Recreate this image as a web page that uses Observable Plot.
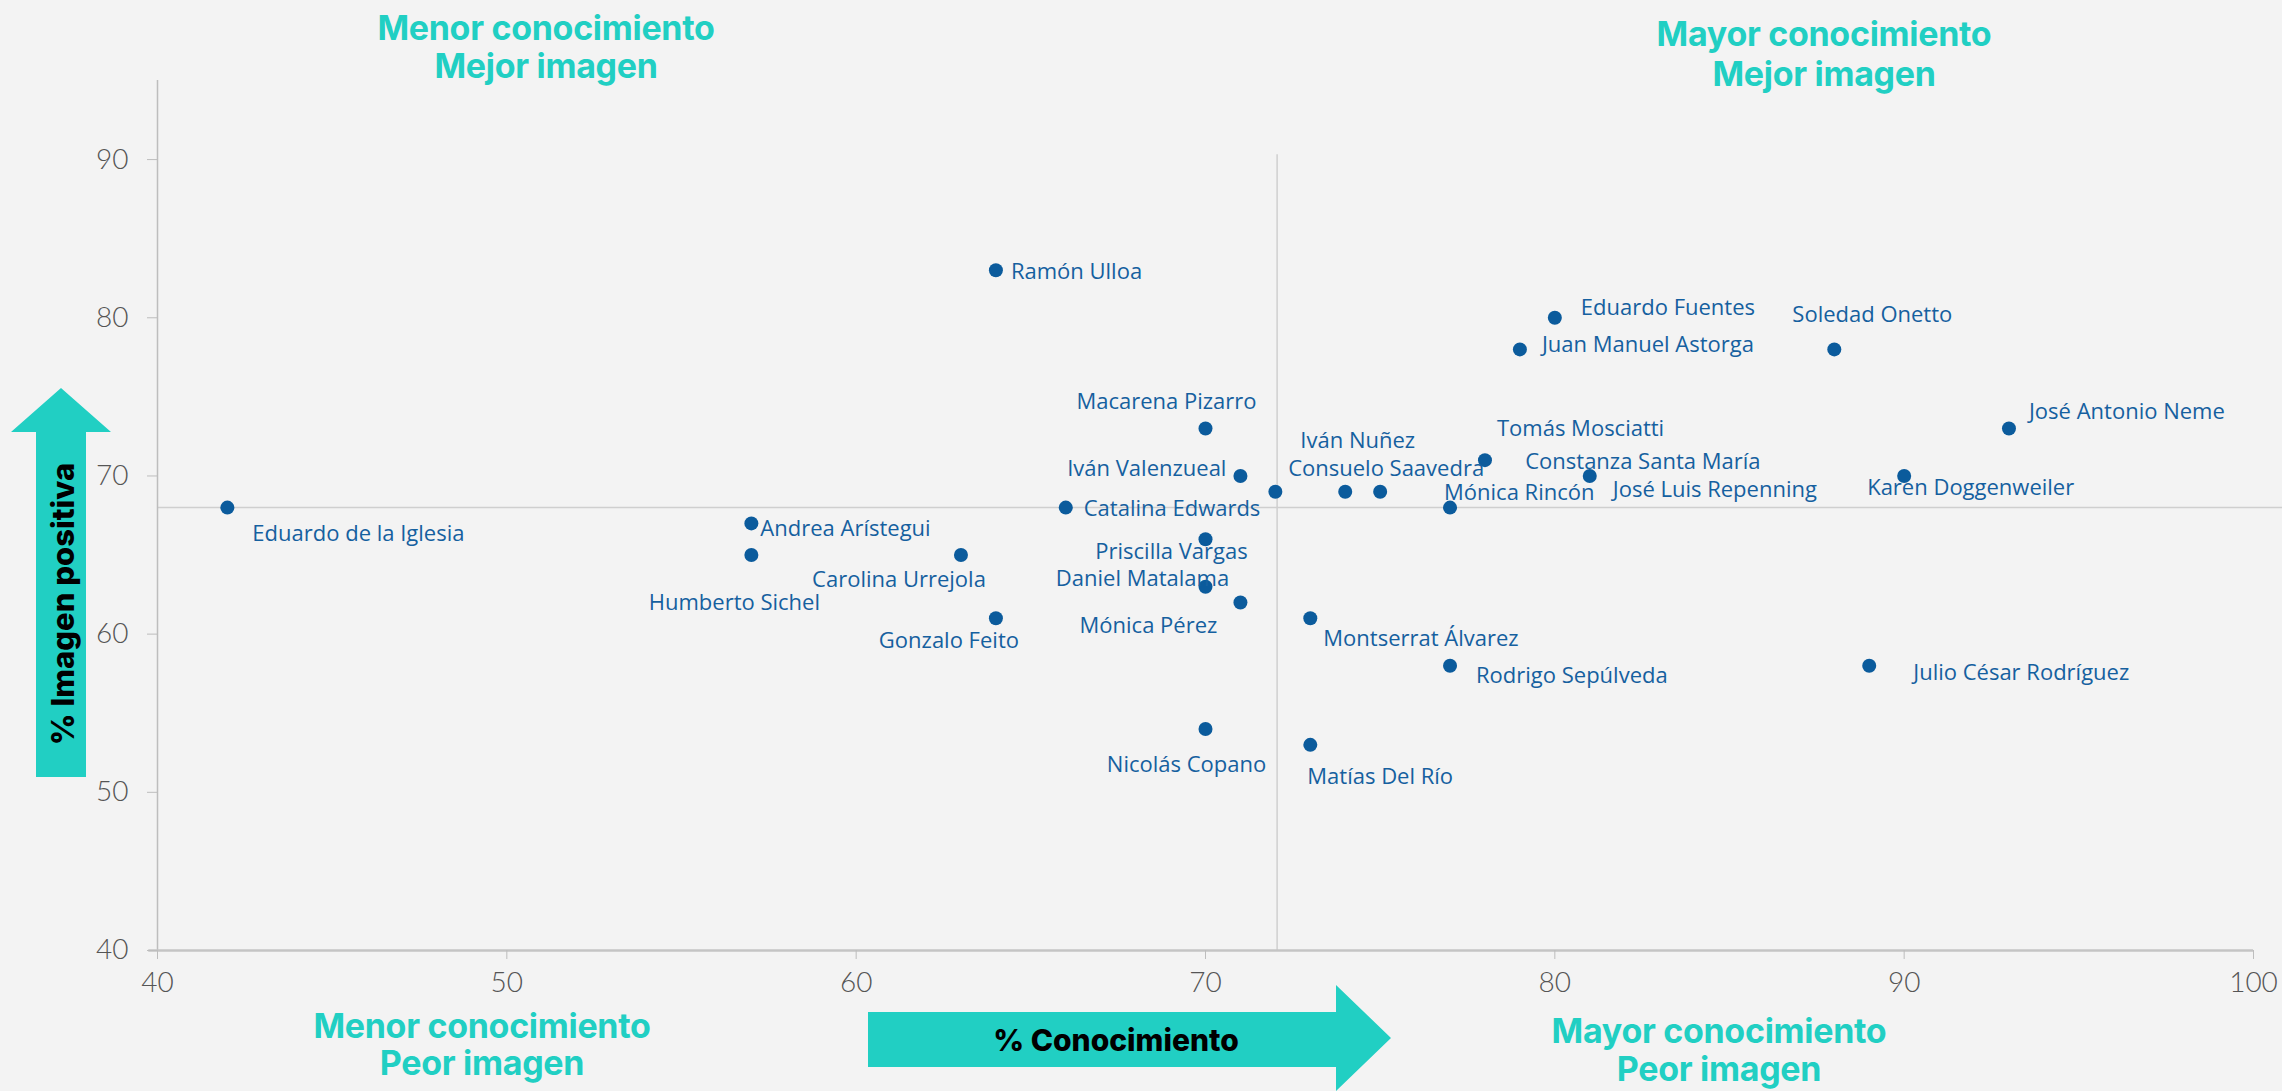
<!DOCTYPE html>
<html>
<head>
<meta charset="utf-8">
<script src="https://cdn.jsdelivr.net/npm/d3@7"></script>
<script src="https://cdn.jsdelivr.net/npm/@observablehq/plot@0.6"></script>
<style>
  html, body { margin: 0; padding: 0; background: #f3f3f3; }
  #wrap { position: relative; width: 2282px; height: 1091px; overflow: hidden; background: #f3f3f3; }
  #chart, #overlay { position: absolute; left: 0; top: 0; }
</style>
</head>
<body>
<div id="wrap">
  <div id="chart"></div>
  <svg id="overlay" width="2282" height="1091"></svg>
</div>
<script>
// ---- data ----
const names = [
  "Eduardo de la Iglesia", "Andrea Arístegui", "Humberto Sichel", "Carolina Urrejola",
  "Gonzalo Feito", "Ramón Ulloa", "Catalina Edwards", "Macarena Pizarro",
  "Iván Valenzueal", "Priscilla Vargas", "Daniel Matalama", "Mónica Pérez",
  "Nicolás Copano", "Iván Nuñez", "Constanza Santa María", "Consuelo Saavedra",
  "Montserrat Álvarez", "Matías Del Río", "Mónica Rincón", "Rodrigo Sepúlveda",
  "Tomás Mosciatti", "Juan Manuel Astorga", "Eduardo Fuentes", "José Luis Repenning",
  "Soledad Onetto", "José Antonio Neme", "Karen Doggenweiler", "Julio César Rodríguez"
];
const conocimiento = [42, 57, 57, 63, 64, 64, 66, 70, 71, 70, 70, 71, 70, 72, 74, 75, 73, 73, 77, 77, 78, 79, 80, 81, 88, 93, 90, 89];
const imagen       = [68, 67, 65, 65, 61, 83, 68, 73, 70, 66, 63, 62, 54, 69, 69, 69, 61, 53, 68, 58, 71, 78, 80, 70, 78, 73, 70, 58];
const xTicks = [40, 50, 60, 70, 80, 90, 100];
const yTicks = [40, 50, 60, 70, 80, 90];
const refX = 72.05;
const refY = 68;
const xLabel = "% Conocimiento";
const yLabel = "% Imagen positiva";
const quadrants = [
  ["Menor conocimiento", "Mejor imagen"],
  ["Mayor conocimiento", "Mejor imagen"],
  ["Menor conocimiento", "Peor imagen"],
  ["Mayor conocimiento", "Peor imagen"]
];

// label placement (anchor, dx, dy in px) — kept separate from data
const labelPlacement = {
  "Eduardo de la Iglesia": ["start", 25, 26],
  "Andrea Arístegui": ["start", 9, 6],
  "Humberto Sichel": ["middle", -17, 48],
  "Carolina Urrejola": ["middle", -62, 25],
  "Gonzalo Feito": ["middle", -47, 23],
  "Ramón Ulloa": ["start", 15, 2],
  "Catalina Edwards": ["start", 18, 1],
  "Macarena Pizarro": ["middle", -39, -27],
  "Iván Valenzueal": ["end", -14, -7],
  "Priscilla Vargas": ["middle", -34, 13],
  "Daniel Matalama": ["middle", -63, -8],
  "Mónica Pérez": ["middle", -92, 23],
  "Nicolás Copano": ["middle", -19, 36],
  "Iván Nuñez": ["start", 25, -51],
  "Constanza Santa María": ["start", 180, -30],
  "Consuelo Saavedra": ["start", -92, -23],
  "Montserrat Álvarez": ["start", 13, 21],
  "Matías Del Río": ["start", -3, 32],
  "Mónica Rincón": ["start", -6, -15],
  "Rodrigo Sepúlveda": ["start", 26, 10],
  "Tomás Mosciatti": ["start", 12, -31],
  "Juan Manuel Astorga": ["start", 22, -4],
  "Eduardo Fuentes": ["start", 26, -10],
  "José Luis Repenning": ["start", 23, 14],
  "Soledad Onetto": ["middle", 38, -34],
  "José Antonio Neme": ["start", 20, -17],
  "Karen Doggenweiler": ["start", -37, 12],
  "Julio César Rodríguez": ["start", 44, 7]
};

const people = names.map((n, i) => ({name: n, x: conocimiento[i], y: imagen[i]}));

const blue = "#0b5b9c";
const labelBlue = "#15609f";
const teal = "#21cfc3";
const labelFont = "'Open Sans', sans-serif";

const labelMarks = people.map(p => {
  const [anchor, dx, dy] = labelPlacement[p.name];
  return Plot.text([p], {
    x: "x", y: "y", text: "name",
    textAnchor: anchor, dx, dy,
    fill: labelBlue, fontSize: 22, fontFamily: labelFont,
    letterSpacing: "0.5px"
  });
});

const chart = Plot.plot({
  width: 2282,
  height: 1091,
  marginLeft: 157,
  marginRight: 29,
  marginTop: 80,
  marginBottom: 141,
  style: {background: "transparent", fontFamily: "Lato, 'Open Sans', sans-serif", overflow: "visible"},
  x: {domain: [40, 100]},
  y: {domain: [40, 95]},
  marks: [
    Plot.ruleY([refY], {x1: 40, x2: 101.5, stroke: "#cfcfcf", strokeWidth: 1.5, clip: false}),
    Plot.ruleX([refX], {y1: 40, y2: 90.3, stroke: "#cfcfcf", strokeWidth: 1.5}),
    Plot.ruleX([40], {y1: 40, y2: 95, stroke: "#bdbdbd", strokeWidth: 1.5}),
    Plot.ruleY([40], {x1: 39.75, x2: 100, stroke: "#c4c4c4", strokeWidth: 2.5}),
    Plot.axisX({ticks: xTicks, tickSize: 9, tickPadding: 13, stroke: "#bdbdbd", fill: "#555",
      fontSize: 28, fontWeight: 300, label: null, tickFormat: d => String(d)}),
    Plot.axisY({ticks: yTicks, tickSize: 10, tickPadding: 19, stroke: "#bdbdbd", fill: "#555",
      fontSize: 28, fontWeight: 300, label: null, tickFormat: d => String(d)}),
    Plot.dot(people, {x: "x", y: "y", r: 7, fill: blue, stroke: null, title: "name"}),
    ...labelMarks
  ]
});
document.getElementById("chart").appendChild(chart);

// ---- overlay annotations (arrows and quadrant titles) ----
const ov = d3.select("#overlay");
// horizontal arrow
ov.append("polygon")
  .attr("points", "868,1012 1336,1012 1336,985 1391,1038 1336,1091 1336,1067 868,1067")
  .attr("fill", teal);
ov.append("text").attr("x", 1116).attr("y", 1040)
  .attr("text-anchor", "middle").attr("dominant-baseline", "central")
  .attr("font-family", "Inter, 'Open Sans', sans-serif").attr("font-weight", 800)
  .attr("font-size", 30).attr("fill", "#000").text(xLabel);
// vertical arrow
ov.append("polygon")
  .attr("points", "36,777 36,432 11,432 61,388 111,432 86,432 86,777")
  .attr("fill", teal);
ov.append("text").attr("transform", "translate(62,604) rotate(-90)")
  .attr("text-anchor", "middle").attr("dominant-baseline", "central")
  .attr("font-family", "Inter, 'Open Sans', sans-serif").attr("font-weight", 800)
  .attr("font-size", 31).attr("fill", "#000").text(yLabel);

const qPos = [[546, 27, 65], [1824, 33, 73], [482, 1025, 1062], [1719, 1030, 1068]];
quadrants.forEach((lines, i) => {
  const [cx, y1, y2] = qPos[i];
  [y1, y2].forEach((yy, j) => {
    ov.append("text").attr("x", cx).attr("y", yy)
      .attr("text-anchor", "middle").attr("dominant-baseline", "central")
      .attr("font-family", "Inter, 'Open Sans', sans-serif").attr("font-weight", 700)
      .attr("font-size", 34).attr("letter-spacing", "-0.3")
      .attr("fill", teal).text(lines[j]);
  });
});
</script>
</body>
</html>
